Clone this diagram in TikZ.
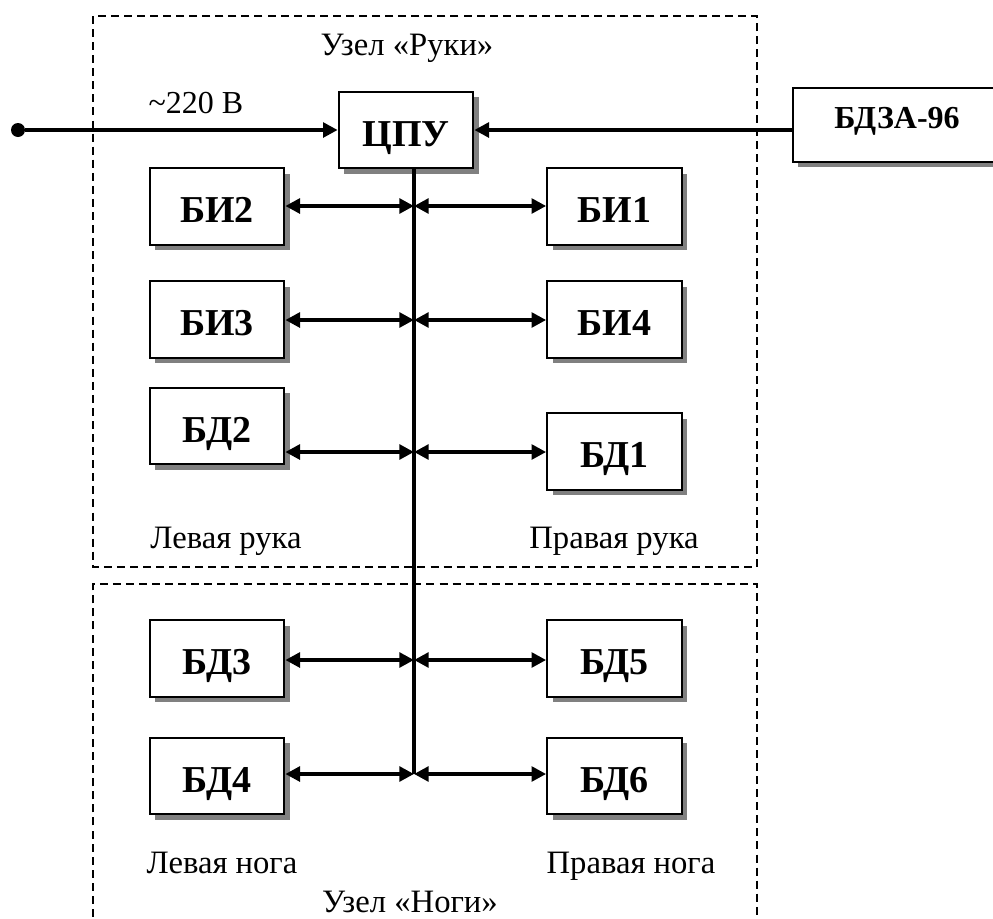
\documentclass[tikz,border=0pt]{standalone}
\usepackage{fontspec}
\setmainfont{Liberation Serif}
\usetikzlibrary{arrows.meta,shadows}
\begin{document}
\begin{tikzpicture}[x=0.75pt,y=-0.75pt,
  blk/.style={draw=black,line width=1.5pt,fill=white,minimum width=101pt,minimum height=57.5pt,inner sep=0pt,
     font=\fontsize{28.5}{32}\selectfont\bfseries,text height=24pt,text depth=0pt,
     drop shadow={shadow xshift=4pt,shadow yshift=-4pt,fill=black!50,opacity=1}},
  conn/.style={line width=3pt},
  tip/.style={-{Triangle[length=11pt,width=11pt]}},
  dtip/.style={{Triangle[length=11pt,width=11pt]}-{Triangle[length=11pt,width=11pt]}},
  frame/.style={line width=1.4pt,dash pattern=on 6pt off 3.8pt},
  capt/.style={font=\fontsize{24.5}{28}\selectfont,inner sep=0pt,text height=17pt,text depth=5pt},
]
\useasboundingbox (0,0) rectangle (993,918);
% frames
\draw[frame] (93,16) rectangle (757,567);
\draw[frame] (93,930) -- (93,584) -- (757,584) -- (757,930);
% captions
\node[capt] (tarm) at (407,47) {Узел «Руки»};
\node[capt] (tleg) at (410,904) {Узел «Ноги»};
\node[capt] (la) at (226,540) {Левая рука};
\node[capt] (ra) at (614,540) {Правая рука};
\node[capt] (ll) at (222,865) {Левая нога};
\node[capt] (rl) at (631,865) {Правая нога};
\node[capt,font=\fontsize{24}{27}\selectfont] (v) at (196,105) {\textasciitilde220 В};
% blocks
\node[blk] (cpu) at (406,130) {ЦПУ};
\node[blk,minimum width=156pt,minimum height=55.5pt,font=\fontsize{24}{27}\selectfont\bfseries,text height=12pt,text depth=6.7pt] (bdza) at (897,125) {БДЗА-96};
\node[blk] (bi2) at (217,206.5) {БИ2};
\node[blk] (bi1) at (614.5,206.5) {БИ1};
\node[blk] (bi3) at (217,319.5) {БИ3};
\node[blk] (bi4) at (614.5,319.5) {БИ4};
\node[blk] (bd2) at (217,426) {БД2};
\node[blk] (bd1) at (614.5,451.5) {БД1};
\node[blk] (bd3) at (217,658.5) {БД3};
\node[blk] (bd5) at (614.5,658.5) {БД5};
\node[blk] (bd4) at (217,776) {БД4};
\node[blk] (bd6) at (614.5,776) {БД6};
% source
\node[circle,fill=black,inner sep=0pt,minimum size=10.5pt] (src) at (18,130) {};
\draw[conn,tip] (src) -- (cpu.west);
\draw[conn,tip] (bdza.west |- cpu.east) -- (cpu.east);
% bus
\coordinate (j1) at (414,206);
\coordinate (j2) at (414,320);
\coordinate (j3) at (414,452);
\coordinate (j4) at (414,660);
\coordinate (j5) at (414,774);
\draw[line width=3.6pt] (cpu.south -| j1) -- (j5);
\foreach \l/\r/\j in {bi2/bi1/j1, bi3/bi4/j2, bd2/bd1/j3, bd3/bd5/j4, bd4/bd6/j5}{
  \draw[conn,dtip] (\j -| \l.east) -- (\j);
  \draw[conn,dtip] (\j) -- (\j -| \r.west);
}
\end{tikzpicture}
\end{document}
